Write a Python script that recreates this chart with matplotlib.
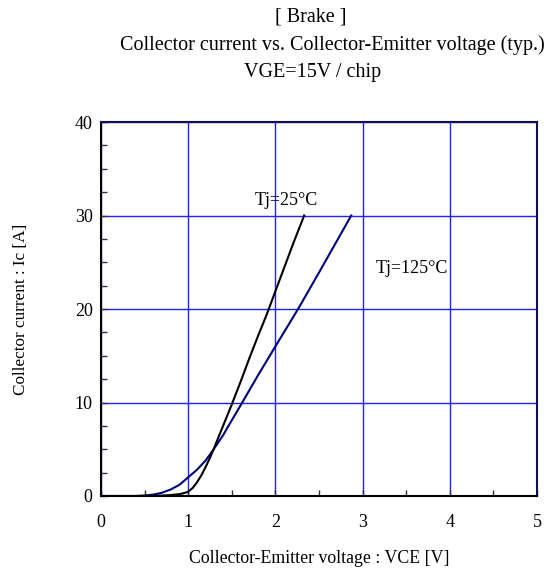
import matplotlib
matplotlib.use("Agg")
import matplotlib.pyplot as plt
from matplotlib.ticker import MultipleLocator

plt.rcParams['font.family'] = ['Liberation Serif', 'DejaVu Serif']

vce_25 = [0, 0.5, 0.6, 0.7, 0.8, 0.9, 0.95, 1.0, 1.05, 1.1, 1.15, 1.2, 1.25, 1.3, 1.4, 1.5, 1.6, 1.7, 1.8, 1.9, 2.0, 2.1, 2.2, 2.33]
ic_25 = [0, 0, 0.02, 0.05, 0.1, 0.2, 0.3, 0.46, 0.85, 1.45, 2.2, 3.1, 4.1, 5.2, 7.5, 9.8, 12.2, 14.7, 17.1, 19.4, 21.9, 24.4, 26.9, 30]

vce_125 = [0, 0.4, 0.5, 0.6, 0.7, 0.8, 0.9, 1.0, 1.1, 1.2, 1.3, 1.4, 1.5, 1.62, 1.8, 2.0, 2.26, 2.5, 2.7, 2.87]
ic_125 = [0, 0, 0.05, 0.15, 0.35, 0.7, 1.2, 2.0, 2.8, 3.8, 5.1, 6.5, 8.1, 10, 12.9, 16.0, 20, 23.9, 27.2, 30]

x_ticks = [0, 1, 2, 3, 4, 5]
y_ticks = [0, 10, 20, 30, 40]

title_lines = ["[ Brake ]", "Collector current vs. Collector-Emitter voltage (typ.)", "VGE=15V / chip"]

fig = plt.figure(figsize=(5.51, 5.75), dpi=100)
ax = fig.add_axes([0.1833, 0.1374, 0.9746 - 0.1833, 0.7878 - 0.1374])

ax.set_xlim(0, 5)
ax.set_ylim(0, 40)
ax.set_xticks(x_ticks)
ax.set_yticks(y_ticks)
ax.xaxis.set_minor_locator(MultipleLocator(0.5))
ax.yaxis.set_minor_locator(MultipleLocator(2.5))
ax.tick_params(which='both', direction='in', length=4, width=1, colors='#333333', labelcolor='black', labelsize=13)
ax.tick_params(axis='x', which='major', pad=13)
ax.tick_params(axis='y', which='major', pad=6)
ax.grid(True, which='major', color='#2020ff', linewidth=1.0)
ax.set_axisbelow(True)

for s in ['left', 'bottom']:
    ax.spines[s].set_color('black')
    ax.spines[s].set_linewidth(1.5)
for s in ['top', 'right']:
    ax.spines[s].set_color('#101050')
    ax.spines[s].set_linewidth(1.5)

ax.plot(vce_125, ic_125, color='#000080', linewidth=1.5)
ax.plot(vce_25, ic_25, color='black', linewidth=1.5)

ax.text(2.12, 31.6, "Tj=25°C", fontsize=13, ha='center', va='center')
ax.text(3.57, 24.3, "Tj=125°C", fontsize=13, ha='center', va='center')

ax.set_xlabel("Collector-Emitter voltage : VCE [V]", fontsize=12.8, labelpad=14)
ax.set_ylabel("Collector current : Ic [A]", fontsize=12.3, labelpad=33)

ys = [1 - 17 / 575, 1 - 45 / 575, 1 - 73 / 575]
xs = [311 / 551, 332 / 551, 313 / 551]
for t, x, y in zip(title_lines, xs, ys):
    fig.text(x, y, t, fontsize=14.5, ha='center', va='center')

fig.savefig("out.png", dpi=100)
